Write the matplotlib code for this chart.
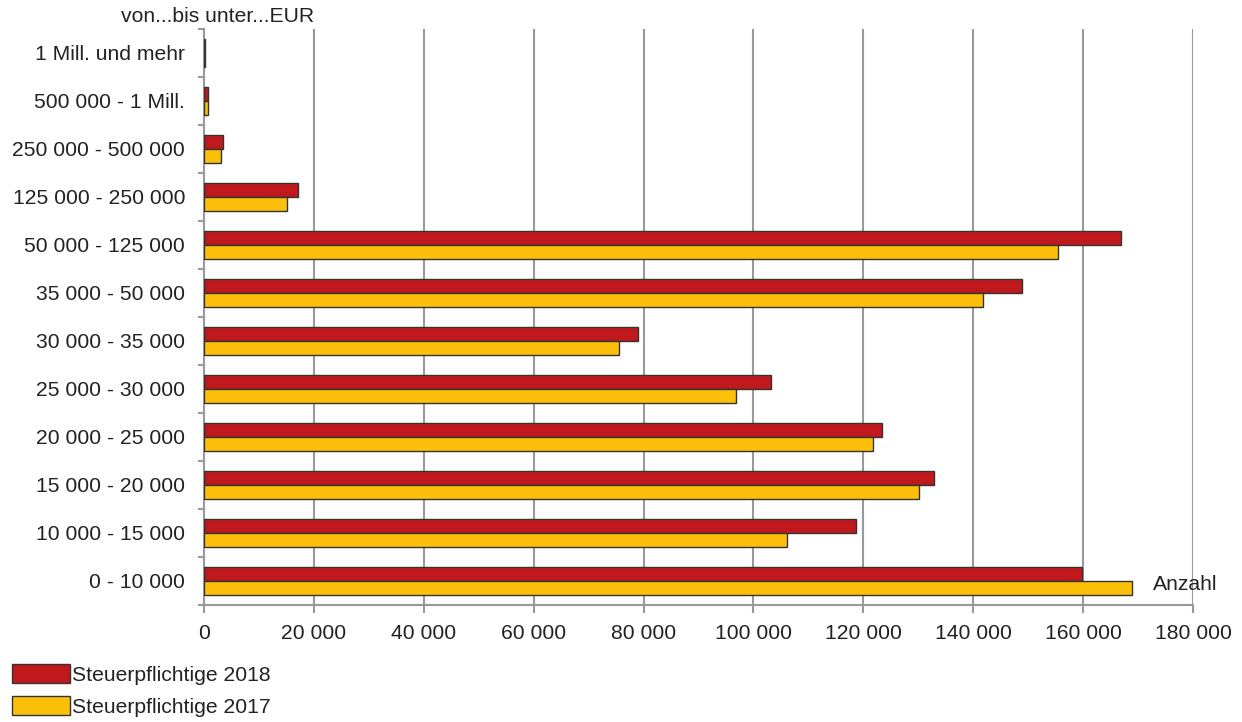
import matplotlib
matplotlib.use("Agg")
import matplotlib.pyplot as plt
from matplotlib.patches import Patch
from matplotlib.ticker import FixedLocator, FuncFormatter

plt.rcParams['font.family'] = ['Liberation Sans', 'DejaVu Sans']
plt.rcParams['font.size'] = 15.2

# Einkommensklassen, von unten nach oben
klassen = ['0 - 10 000', '10 000 - 15 000', '15 000 - 20 000', '20 000 - 25 000',
           '25 000 - 30 000', '30 000 - 35 000', '35 000 - 50 000', '50 000 - 125 000',
           '125 000 - 250 000', '250 000 - 500 000', '500 000 - 1 Mill.', '1 Mill. und mehr']
steuerpflichtige_2018 = [159800, 118650, 132900, 123400, 103200, 78900, 148900, 166900,
                         17150, 3450, 730, 120]
steuerpflichtige_2017 = [168850, 106050, 130150, 121750, 96900, 75500, 141800, 155400,
                         15100, 3150, 670, 110]
x_ticks = list(range(0, 180001, 20000))

ROT = '#C0191B'
GELB = '#FCC00B'
GRAU = '#999999'

fig = plt.figure(figsize=(12.42, 7.22), dpi=100)
ax = fig.add_axes([204 / 1242, 1 - 605 / 722, (1193 - 204) / 1242, (605 - 29) / 722])

y = list(range(len(klassen)))
h = 0.29
ax.barh([v + h / 2 for v in y], steuerpflichtige_2018, height=h, color=ROT,
        edgecolor='#333333', linewidth=1, zorder=3)
ax.barh([v - h / 2 for v in y], steuerpflichtige_2017, height=h, color=GELB,
        edgecolor='#333333', linewidth=1, zorder=3)

ax.set_xlim(0, 180000)
ax.set_ylim(-0.5, len(klassen) - 0.5)

# x-Achse
ax.xaxis.set_major_locator(FixedLocator(x_ticks))
ax.xaxis.set_major_formatter(FuncFormatter(lambda v, p: f'{int(v):,}'.replace(',', ' ')))
ax.tick_params(axis='x', length=6, width=1.5, color=GRAU, pad=7.5, labelcolor='#222222')
for xv in x_ticks[1:]:
    ax.axvline(xv, color=GRAU, linewidth=1.5, zorder=1)

# y-Achse: Beschriftung mittig, Striche an den Klassengrenzen
ax.set_yticks(y)
ax.set_yticklabels(klassen, color='#222222')
ax.tick_params(axis='y', which='major', length=0, pad=13.5)
ax.yaxis.set_minor_locator(FixedLocator([v - 0.5 for v in y] + [len(klassen) - 0.5]))
ax.tick_params(axis='y', which='minor', length=4.5, width=1.5, color=GRAU)

for s in ['top', 'right']:
    ax.spines[s].set_visible(False)
for s in ['left', 'bottom']:
    ax.spines[s].set_color(GRAU)
    ax.spines[s].set_linewidth(1.5)

fig.text(314 / 1242, 1 - 16 / 722, 'von...bis unter...EUR', ha='right', va='center',
         color='#222222')
fig.text(1153 / 1242, 1 - 585 / 722, 'Anzahl', ha='left', va='center', color='#222222')

handles = [Patch(facecolor=ROT, edgecolor='#333333', linewidth=1),
           Patch(facecolor=GELB, edgecolor='#333333', linewidth=1)]
fig.legend(handles, ['Steuerpflichtige 2018', 'Steuerpflichtige 2017'],
           loc='upper left', bbox_to_anchor=(12 / 1242, 1 - 664 / 722), frameon=False,
           handlelength=2.75, handleheight=1.0, handletextpad=0.08, labelspacing=0.55,
           borderpad=0, borderaxespad=0, labelcolor='#222222')

fig.savefig('out.png', dpi=100)
